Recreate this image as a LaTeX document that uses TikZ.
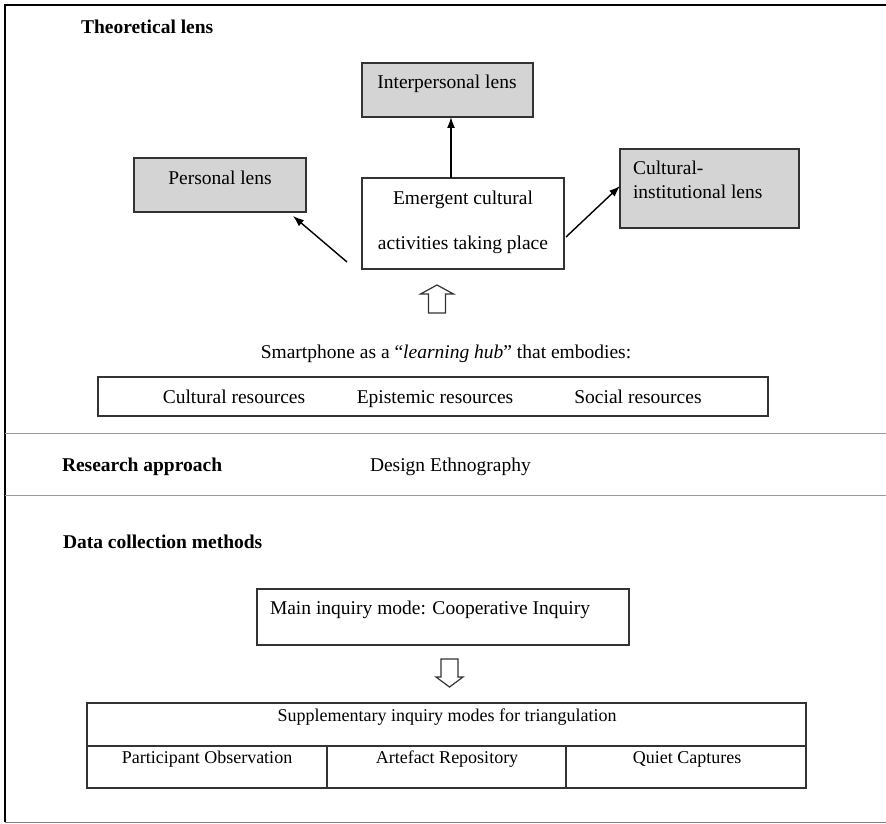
\documentclass[tikz,border=0pt]{standalone}
\usepackage{fontspec}
\setmainfont{Liberation Serif}
\usetikzlibrary{arrows.meta,calc}
\begin{document}
\begin{tikzpicture}[x=1pt,y=-1pt,
  every node/.style={inner sep=0pt, outer sep=0pt, font=\fontsize{19.5}{23.4}\selectfont},
  frameline/.style={line width=1.5pt, black},
  graybound/.style={line width=1pt, black!50},
  sepline/.style={line width=1pt, black!40},
  lensbox/.style={draw=black!80, line width=1.4pt, fill=black!17},
  plainbox/.style={draw=black!80, line width=1.4pt, fill=white},
  heading/.style={anchor=base west, font=\bfseries\fontsize{19.5}{23.4}\selectfont},
  lbl/.style={anchor=base},
  lblw/.style={anchor=base west},
  small/.style={anchor=base, font=\fontsize{18}{21}\selectfont},
  link/.style={-{Latex[length=11pt,width=8pt]}, line width=1.4pt, black},
  blockarrow/.style={draw=black!80, line width=1.2pt, fill=white, line join=miter}
]
\useasboundingbox (0,0) rectangle (886,824);

% outer frame and section separators
\draw[frameline] (5,822) -- (5,5) -- (886,5);
\draw[graybound] (5,822) -- (886,822);
\draw[sepline] (5,433) -- (886,433);
\draw[sepline] (5,495) -- (886,495);

% ---------- Theoretical lens ----------
\node[heading] (thl) at (81,34) {Theoretical lens};

\node[lensbox, minimum width=171pt, minimum height=54pt] (inter) at (447.5,90) {};
\node[lbl] (intertxt) at (447,89) {Interpersonal lens};

\node[lensbox, minimum width=172pt, minimum height=54pt] (personal) at (220,185) {};
\node[lbl] (perstxt) at (220,184) {Personal lens};

\node[lensbox, minimum width=179pt, minimum height=79pt] (cultural) at (709.5,188.5) {};
\node[lblw] (cult1) at (633,175) {Cultural-};
\node[lblw] (cult2) at (633,198) {institutional lens};

\node[plainbox, minimum width=202pt, minimum height=91pt] (emergent) at (463,223.5) {};
\node[lbl] (emtxt1) at (463,204) {Emergent cultural};
\node[lbl] (emtxt2) at (463,249) {activities taking place};

\draw[link] ([xshift=-12pt]emergent.north) -- ([xshift=3.5pt]inter.south);
\draw[link] ([shift={(-15,38.5)}]emergent.west) -- ([shift={(-13,4)}]personal.south east);
\draw[link] ([shift={(2,13.5)}]emergent.east) -- ([shift={(0,-2.5)}]cultural.west);

% hollow arrow from the hub up to the activities
\draw[blockarrow] (437,285) -- (453.5,294) -- (445.5,294) -- (445.5,313)
  -- (428.5,313) -- (428.5,294) -- (420.5,294) -- cycle;

\node[lbl] (hub) at (446,358) {Smartphone as a “\textit{learning hub}” that embodies:};

\node[plainbox, minimum width=670pt, minimum height=39pt] (resources) at (433,396.5) {};
\node[lbl] (res1) at (234,403) {Cultural resources};
\node[lbl] (res2) at (435,403) {Epistemic resources};
\node[lbl] (res3) at (638,403) {Social resources};

% ---------- Research approach ----------
\node[heading] (ra) at (62,471) {Research approach};
\node[lblw] (de) at (370,471) {Design Ethnography};

% ---------- Data collection methods ----------
\node[heading] (dcm) at (63,548) {Data collection methods};

\node[plainbox, minimum width=372pt, minimum height=56pt] (main) at (443,617) {};
\node[lblw] (maintxt) at (270,614) {Main inquiry mode: Cooperative Inquiry};

% hollow arrow down to the supplementary modes
\draw[blockarrow] (441,659) -- (458,659) -- (458,677) -- (463,677) -- (449.5,687)
  -- (436,677) -- (441,677) -- cycle;

\node[plainbox, minimum width=719pt, minimum height=43pt] (supp) at (446.5,724.5) {};
\node[small] (supptxt) at (447,721) {Supplementary inquiry modes for triangulation};

\node[plainbox, minimum width=240pt, minimum height=42pt] (cell1) at (207,767) {};
\node[plainbox, minimum width=239pt, minimum height=42pt] (cell2) at (446.5,767) {};
\node[plainbox, minimum width=240pt, minimum height=42pt] (cell3) at (686,767) {};
\node[small] (c1txt) at (207,763) {Participant Observation};
\node[small] (c2txt) at (447,763) {Artefact Repository};
\node[small] (c3txt) at (687,763) {Quiet Captures};
\end{tikzpicture}
\end{document}
